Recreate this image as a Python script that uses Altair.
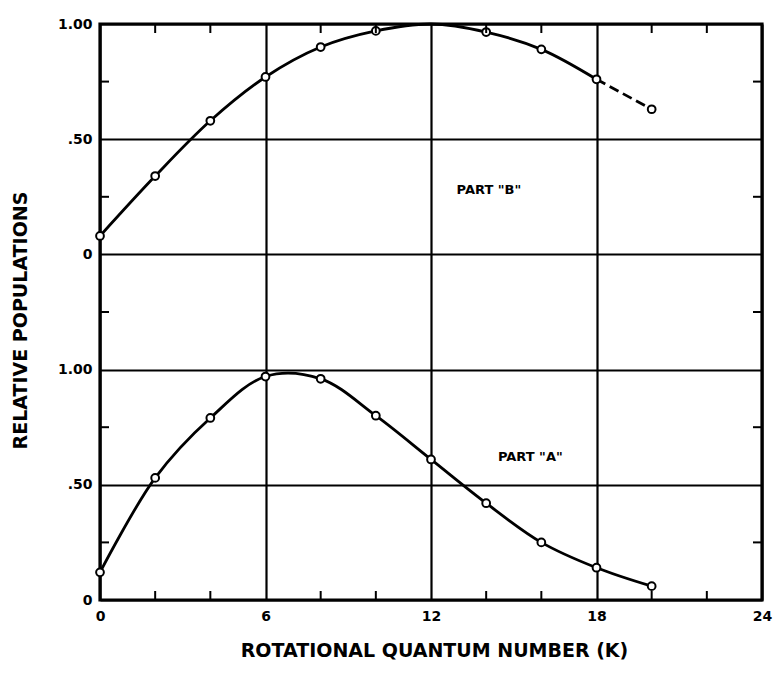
import altair as alt
import pandas as pd

# Rotational quantum number K at which populations were computed
k_a = [0, 2, 4, 6, 8, 10, 12, 14, 16, 18, 20]
k_b = [0, 2, 4, 6, 8, 10, 12, 14, 16, 18, 20]

# Relative populations, each part normalised to 1.00
part_a = [0.12, 0.53, 0.79, 0.97, 0.96, 0.80, 0.61, 0.42, 0.25, 0.14, 0.06]
part_b = [0.08, 0.34, 0.58, 0.77, 0.90, 0.97, 1.00, 0.965, 0.89, 0.76, 0.63]
# circles drawn at these points of part B (the peak sits on the frame)
b_marked = [True, True, True, True, True, True, False, True, True, True, True]

# Part B is stacked above part A on one shared axis
B_OFFSET = 1.5
y_ticks = [0, 0.5, 1.0, 1.5, 2.0, 2.5]
x_ticks = [0, 6, 12, 18, 24]
x_minor = [2, 4, 8, 10, 14, 16, 20, 22]
y_minor = [0.25, 0.75, 1.25, 1.75, 2.25]

W, H = 662, 576
FONT = "DejaVu Sans"

df_a = pd.DataFrame({"K": k_a, "pop": part_a, "marked": True})
df_b = pd.DataFrame({"K": k_b, "pop": [v + B_OFFSET for v in part_b], "marked": b_marked})
# solid fit up to K=18, dashed continuation beyond
df_b_solid = df_b[df_b["K"] <= 18]
df_b_dash = df_b[df_b["K"] >= 18]
df_pts = pd.concat([df_a, df_b[df_b["marked"]]])

x_scale = alt.Scale(domain=[0, 24], nice=False, zero=False)
y_scale = alt.Scale(domain=[0, 2.5], nice=False, zero=False)

label_expr = ("datum.value == 0 || datum.value == 1.5 ? '0' : "
              "(datum.value == 0.5 || datum.value == 2 ? '.50' : '1.00')")

x_enc = alt.X("K:Q", scale=x_scale, axis=alt.Axis(
    values=x_ticks, grid=True, gridColor="black", gridWidth=2.2, gridOpacity=1,
    ticks=False, domain=False, labelFlush=False, labelPadding=9,
    labelFont=FONT, labelFontWeight="bold", labelFontSize=14, labelColor="black",
    title="ROTATIONAL  QUANTUM NUMBER (K)", titleFont=FONT, titleFontWeight="bold",
    titleFontSize=19, titleColor="black", titleX=334, titleY=50,
    titleAlign="center", titleBaseline="middle"))
y_enc = alt.Y("pop:Q", scale=y_scale, axis=alt.Axis(
    values=y_ticks, grid=True, gridColor="black", gridWidth=2.2, gridOpacity=1,
    ticks=False, domain=False, labelPadding=8, labelExpr=label_expr,
    labelFont=FONT, labelFontWeight="bold", labelFontSize=14, labelColor="black",
    title="RELATIVE  POPULATIONS", titleFont=FONT, titleFontWeight="bold",
    titleFontSize=19, titleColor="black", titleAngle=-90, titleX=-80, titleY=296,
    titleAlign="center", titleBaseline="middle"))

line_a = alt.Chart(df_a).mark_line(
    color="black", strokeWidth=2.8, interpolate="catmull-rom"
).encode(x=x_enc, y=y_enc)

line_b = alt.Chart(df_b_solid).mark_line(
    color="black", strokeWidth=2.8, interpolate="catmull-rom"
).encode(x="K:Q", y="pop:Q")

line_b_dash = alt.Chart(df_b_dash).mark_line(
    color="black", strokeWidth=2.8, strokeDash=[10, 5]
).encode(x="K:Q", y="pop:Q")

points = alt.Chart(df_pts).mark_point(
    shape="circle", size=60, filled=True, fill="white", stroke="black",
    strokeWidth=2, opacity=1, fillOpacity=1
).encode(x="K:Q", y="pop:Q")

# short inward ticks along the frame
xm = pd.DataFrame({"K": x_minor})
ym = pd.DataFrame({"pop": y_minor})
tick_bottom = alt.Chart(xm).mark_rule(color="black", strokeWidth=2).encode(
    x="K:Q", y=alt.value(H), y2=alt.value(H - 9))
tick_top = alt.Chart(xm).mark_rule(color="black", strokeWidth=2).encode(
    x="K:Q", y=alt.value(0), y2=alt.value(9))
tick_left = alt.Chart(ym).mark_rule(color="black", strokeWidth=2).encode(
    y="pop:Q", x=alt.value(0), x2=alt.value(9))
tick_right = alt.Chart(ym).mark_rule(color="black", strokeWidth=2).encode(
    y="pop:Q", x=alt.value(W), x2=alt.value(W - 9))

labels = pd.DataFrame({
    "K": [14.1, 15.6],
    "pop": [1.78, 0.62],
    "txt": ['PART "B"', 'PART "A"'],
})
part_text = alt.Chart(labels).mark_text(
    font=FONT, fontWeight="bold", fontSize=13, color="black"
).encode(x="K:Q", y="pop:Q", text="txt:N")

chart = alt.layer(
    line_a, line_b, line_b_dash, points,
    tick_bottom, tick_top, tick_left, tick_right, part_text
).properties(
    width=W, height=H,
    autosize=alt.AutoSizeParams(type="none"),
    padding={"left": 100, "top": 24, "right": 11, "bottom": 76},
    background="white",
).configure_view(stroke="black", strokeWidth=3.2)

chart.save("out.html", embed_options={"renderer": "svg", "actions": False})
